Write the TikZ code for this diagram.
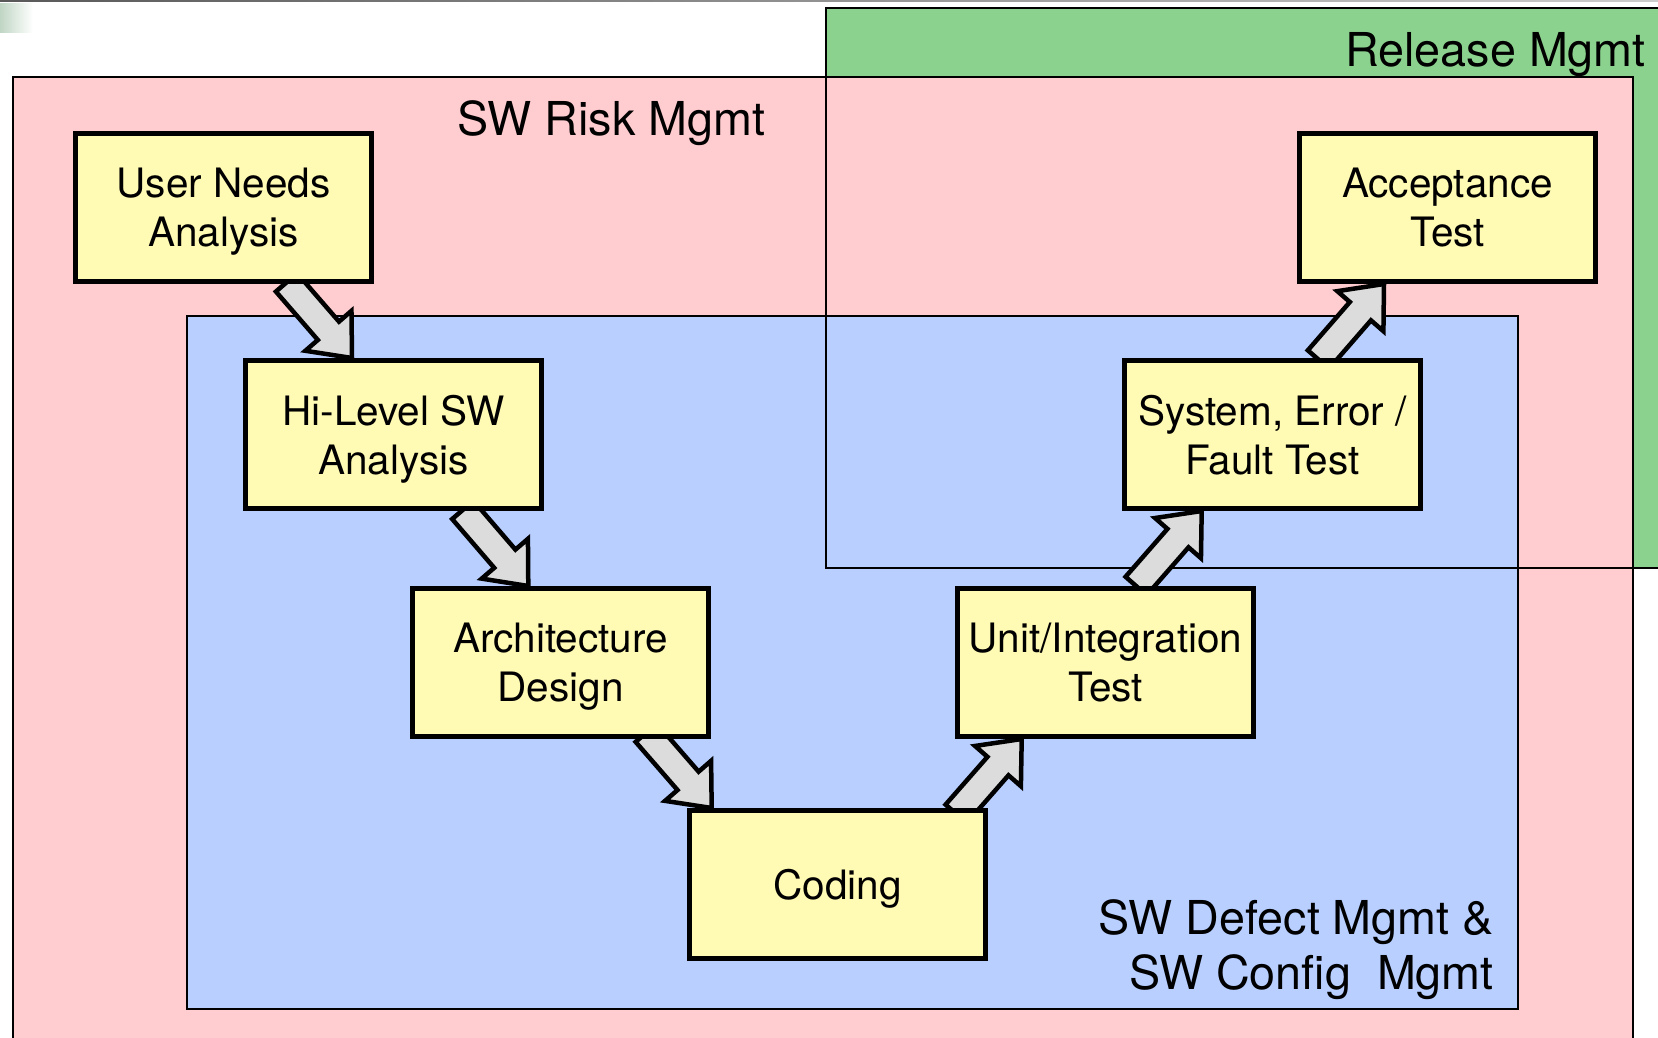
\documentclass[tikz,border=0pt]{standalone}
\usepackage{fontspec}
\setmainfont{TeX Gyre Heros}
\usetikzlibrary{calc}

\definecolor{riskpink}{RGB}{255,204,207}
\definecolor{defectblue}{RGB}{184,207,255}
\definecolor{releasegreen}{RGB}{140,210,143}
\definecolor{stagefill}{RGB}{255,250,180}
\definecolor{flowgray}{RGB}{220,220,220}
\definecolor{cornergreen}{RGB}{192,214,196}

\pgfdeclarelayer{regions}
\pgfdeclarelayer{flows}
\pgfsetlayers{regions,flows,main}

\tikzset{
  stage/.style={draw=black, line width=5pt, fill=stagefill,
    minimum width=296pt, minimum height=148pt, inner sep=0pt,
    align=center, text depth=0pt, font=\fontsize{40.5}{49}\selectfont},
  area label/.style={inner sep=0pt, font=\fontsize{46.7}{55}\selectfont},
  flow/.style={draw=black, fill=flowgray, line width=4.5pt, line join=miter},
}

% fat block arrow from coordinate #1 (tail) to coordinate #2 (tip)
\newcommand\blockarrow[2]{%
  \coordinate (ba-neck) at ($(#2)!36pt!(#1)$);
  \draw[flow] ($(#1)!14pt!90:(#2)$) -- ($(ba-neck)!14pt!90:(#2)$)
    -- ($(ba-neck)!30.5pt!90:(#2)$) -- (#2)
    -- ($(ba-neck)!30.5pt!-90:(#2)$) -- ($(ba-neck)!14pt!-90:(#2)$)
    -- ($(#1)!14pt!-90:(#2)$) -- cycle;
}

\begin{document}
\begin{tikzpicture}[x=1pt,y=-1pt]
\useasboundingbox (0,0) rectangle (1658,1037);

% nested management areas
\begin{pgfonlayer}{regions}
  \fill[white] (0,0) rectangle (1658,1037);
  \shade[left color=black!65, right color=black!20] (0,0) rectangle (1658,1.3);
  \shade[left color=cornergreen, right color=white] (0,3) rectangle (33,32);
  \fill[releasegreen] (826,8) rectangle (1670,568);
  \filldraw[fill=riskpink, draw=black, line width=2.5pt] (13,77) rectangle (1633,1050);
  \filldraw[fill=defectblue, draw=black, line width=2pt] (187,316) rectangle (1518,1009);
  \draw[black, line width=1.8pt] (826,8) rectangle (1670,568);
\end{pgfonlayer}

% lifecycle stages
\node[stage] (user)   at (223.5,207.5)  {User Needs\\Analysis};
\node[stage] (hi)     at (393.5,434.5)  {Hi-Level SW\\Analysis};
\node[stage] (arch)   at (560.5,662.5)  {Architecture\\Design};
\node[stage] (coding) at (837.5,884.5)  {Coding};
\node[stage] (unit)   at (1105.5,662.5) {Unit/Integration\\Test};
\node[stage] (sys)    at (1272.5,434.5) {System, Error /\\Fault Test};
\node[stage] (accept) at (1447.5,207.5) {Acceptance\\Test};

% area titles
\node[area label, anchor=base] (risk) at (611.5,135) {SW Risk Mgmt};
\node[area label, anchor=base east] (release) at (1646,66.5) {Release Mgmt};
\node[area label, anchor=base east] (defect) at (1494,934) {SW Defect Mgmt \&};
\node[area label, anchor=base east] (config) at (1494,989) {SW Config~~Mgmt};

% flow between stages
\begin{pgfonlayer}{flows}
  \coordinate (a1s) at ($(user.south west)+(213.5,-1.6)$);
  \coordinate (a1t) at ($(hi.north west)+(109,0)$);
  \blockarrow{a1s}{a1t}
  \coordinate (a2s) at ($(hi.south west)+(219.8,-1.1)$);
  \coordinate (a2t) at ($(arch.north west)+(118.3,0)$);
  \blockarrow{a2s}{a2t}
  \coordinate (a3s) at ($(arch.south west)+(236.2,-6.3)$);
  \coordinate (a3t) at ($(coding.north west)+(24.7,0)$);
  \blockarrow{a3s}{a3t}
  \coordinate (a4s) at ($(coding.north west)+(269.1,5.8)$);
  \coordinate (a4t) at ($(unit.south west)+(66.7,0)$);
  \blockarrow{a4s}{a4t}
  \coordinate (a5s) at ($(unit.north west)+(181.1,0)$);
  \coordinate (a5t) at ($(sys.south west)+(79.7,0)$);
  \blockarrow{a5s}{a5t}
  \coordinate (a6s) at ($(sys.north west)+(196.4,1.5)$);
  \coordinate (a6t) at ($(accept.south west)+(87,0)$);
  \blockarrow{a6s}{a6t}
\end{pgfonlayer}
\end{tikzpicture}
\end{document}
